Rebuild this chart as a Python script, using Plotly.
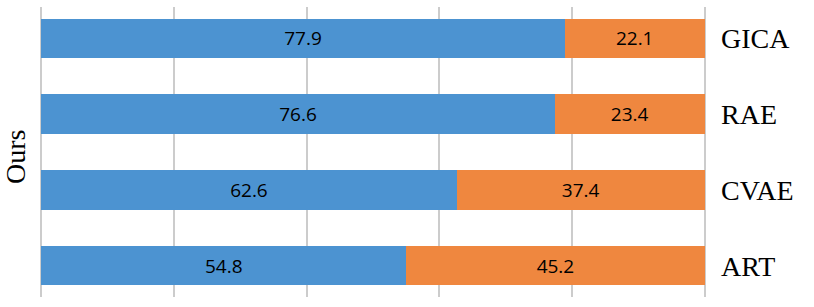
import plotly.graph_objects as go

categories = ["GICA", "RAE", "CVAE", "ART"]
# bar lengths as drawn in the picture
ours = [78.9, 77.4, 62.6, 55.0]
others = [21.1, 22.6, 37.4, 45.0]
# printed labels
ours_labels = ["77.9", "76.6", "62.6", "54.8"]
others_labels = ["22.1", "23.4", "37.4", "45.2"]

blue = "#4C93D1"
orange = "#EF873F"

fig = go.Figure()
fig.add_trace(go.Bar(
    y=categories, x=ours, orientation="h", marker=dict(color=blue, line=dict(width=0)),
    text=ours_labels, textposition="inside", insidetextanchor="middle",
    textfont=dict(family="Open Sans", size=19, color="#000000"),
    hoverinfo="skip", name="Ours"))
fig.add_trace(go.Bar(
    y=categories, x=others, orientation="h", marker=dict(color=orange, line=dict(width=0)),
    text=others_labels, textposition="inside", insidetextanchor="middle",
    textfont=dict(family="Open Sans", size=19, color="#000000"),
    hoverinfo="skip", name="Other"))

fig.update_layout(
    barmode="stack", bargap=0.485,
    width=814, height=307,
    margin=dict(l=38, r=106, t=7, b=10, autoexpand=False),
    paper_bgcolor="white", plot_bgcolor="white",
    showlegend=False,
    uniformtext=dict(mode="show", minsize=8),
    xaxis=dict(range=[-0.5, 100.5], dtick=20, tick0=0, showgrid=True, gridcolor="#CCCCCC",
               gridwidth=1.5, zeroline=False, showticklabels=False, showline=False, ticks="",
               automargin=False),
    yaxis=dict(side="right", range=[3.41, -0.41], type="category",
               categoryorder="array", categoryarray=categories,
               showgrid=False, zeroline=False, showline=False, ticks="",
               ticklabelstandoff=12, automargin=False,
               tickfont=dict(family="Liberation Serif", size=28, color="#000000"),
               title=None),
)
fig.add_annotation(text="Ours", xref="paper", yref="paper", x=0, y=0.5,
                   xanchor="center", yanchor="middle", xshift=-23, yshift=-5, textangle=-90,
                   showarrow=False,
                   font=dict(family="Liberation Serif", size=28, color="#000000"))
fig.write_html("out.html", config={"displayModeBar": False},
               post_script="document.body.style.margin='0px';")
